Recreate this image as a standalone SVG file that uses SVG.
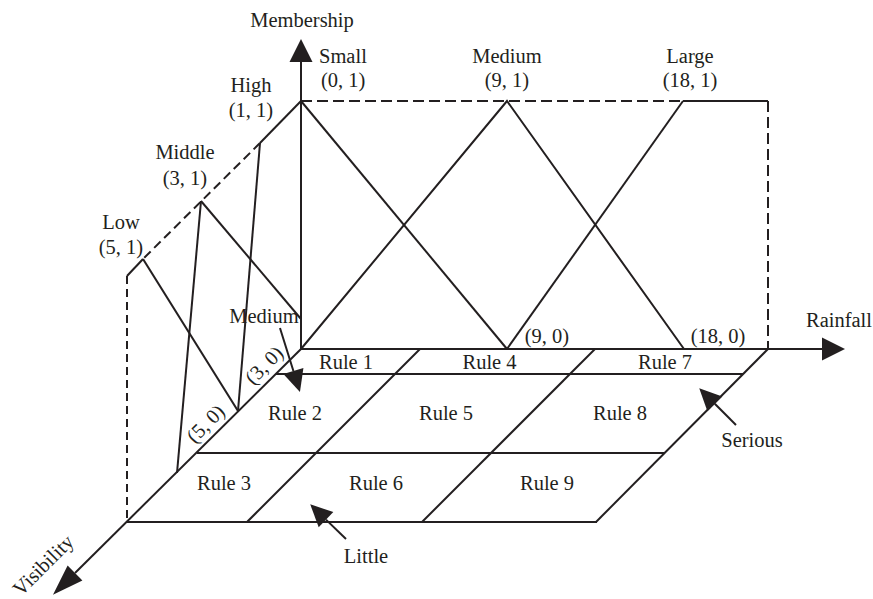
<svg xmlns="http://www.w3.org/2000/svg" width="873" height="599" viewBox="0 0 873 599">
<style>
  .ln{stroke:#231f20;stroke-width:2;fill:none;stroke-linecap:butt;stroke-linejoin:miter}
  .d1{stroke-dasharray:11 5}
  .d2{stroke-dasharray:8 5}
  .d3{stroke-dasharray:9 5}
  text{font-family:"Liberation Serif","Times New Roman",serif;font-size:20.5px;fill:#231f20}
  .m{text-anchor:middle}
</style>
<defs>
  <marker id="axh" markerUnits="userSpaceOnUse" markerWidth="23" markerHeight="23" refX="0" refY="11.5" orient="auto" overflow="visible">
    <path d="M0,0 L23,11.5 L0,23 Z" fill="#231f20"/>
  </marker>
  <marker id="vxh" markerUnits="userSpaceOnUse" markerWidth="31" markerHeight="21" refX="0" refY="10.5" orient="auto" overflow="visible">
    <path d="M0,0 L31,10.5 L0,21 Z" fill="#231f20"/>
  </marker>
  <marker id="ah" markerUnits="userSpaceOnUse" markerWidth="22" markerHeight="21" refX="0" refY="10.5" orient="auto" overflow="visible">
    <path d="M0,0 L22,10.5 L0,21 Z" fill="#231f20"/>
  </marker>
</defs>

<g id="connectors">
  <g id="axes">
    <line class="ln" x1="301" y1="349" x2="301" y2="62" marker-end="url(#axh)"/>
    <line class="ln" x1="301" y1="349" x2="822" y2="349" marker-end="url(#axh)"/>
    <line class="ln" x1="301" y1="349" x2="75" y2="573" marker-end="url(#vxh)"/>
  </g>
  <g id="rainfall-mf">
    <line class="ln d1" x1="301" y1="101" x2="683" y2="101"/>
    <line class="ln" x1="683" y1="101" x2="768" y2="101"/>
    <line class="ln d1" x1="768" y1="101" x2="768" y2="349"/>
    <line class="ln" x1="301" y1="101" x2="507" y2="349"/>
    <polyline class="ln" points="301,349 507,101 684,349"/>
    <polyline class="ln" points="507,349 683,101"/>
  </g>
  <g id="visibility-mf">
    <line class="ln" x1="301" y1="101" x2="260" y2="143"/>
    <line class="ln d3" x1="260" y1="143" x2="143" y2="259"/>
    <line class="ln" x1="143" y1="259" x2="127" y2="276"/>
    <line class="ln d2" x1="127" y1="276" x2="127" y2="522"/>
    <line class="ln" x1="260" y1="143" x2="238" y2="411"/>
    <line class="ln" x1="143" y1="259" x2="238" y2="411"/>
    <line class="ln" x1="201" y1="201" x2="177" y2="473"/>
    <line class="ln" x1="201" y1="201" x2="301" y2="319"/>
  </g>
  <g id="grid">
    <line class="ln" x1="276" y1="374" x2="743" y2="374"/>
    <line class="ln" x1="197" y1="453" x2="665" y2="453"/>
    <line class="ln" x1="127" y1="522" x2="597" y2="522"/>
    <line class="ln" x1="420" y1="349" x2="247" y2="522"/>
    <line class="ln" x1="595" y1="349" x2="422" y2="522"/>
    <line class="ln" x1="768" y1="349" x2="596" y2="522"/>
  </g>
  <g id="pointers">
    <line class="ln" x1="280" y1="328" x2="293.4" y2="371" marker-end="url(#ah)"/>
    <line class="ln" x1="736" y1="425" x2="714.8" y2="403.8" marker-end="url(#ah)"/>
    <line class="ln" x1="346" y1="539" x2="326" y2="519.6" marker-end="url(#ah)"/>
  </g>
</g>

<g id="axis-labels">
  <text class="m" x="302" y="27">Membership</text>
  <text class="m" x="839" y="327">Rainfall</text>
  <text class="m" x="48" y="570" transform="rotate(-45 48 570)">Visibility</text>
</g>

<g id="rainfall-labels">
  <g id="small"><text x="319" y="63">Small</text><text x="321" y="87">(0, 1)</text></g>
  <g id="medium-top"><text class="m" x="507" y="63">Medium</text><text class="m" x="507" y="87">(9, 1)</text></g>
  <g id="large"><text class="m" x="690" y="63">Large</text><text class="m" x="690" y="87">(18, 1)</text></g>
  <text class="m" x="547" y="343">(9, 0)</text>
  <text class="m" x="718" y="343">(18, 0)</text>
</g>

<g id="visibility-labels">
  <g id="high"><text class="m" x="251" y="92">High</text><text class="m" x="251" y="117">(1, 1)</text></g>
  <g id="middle"><text class="m" x="185" y="159">Middle</text><text class="m" x="185" y="185">(3, 1)</text></g>
  <g id="low"><text class="m" x="121" y="229">Low</text><text class="m" x="121" y="254">(5, 1)</text></g>
  <text class="m" x="269" y="370" transform="rotate(-45 269 370)">(3, 0)</text>
  <text class="m" x="210.5" y="428.5" transform="rotate(-45 210.5 428.5)">(5, 0)</text>
</g>

<g id="pointer-labels">
  <text class="m" x="264" y="323">Medium</text>
  <text class="m" x="752" y="447">Serious</text>
  <text class="m" x="366" y="563">Little</text>
</g>

<g id="rules">
  <g id="rule1"><text class="m" x="346" y="369">Rule 1</text></g>
  <g id="rule4"><text class="m" x="489.5" y="369">Rule 4</text></g>
  <g id="rule7"><text class="m" x="665" y="369">Rule 7</text></g>
  <g id="rule2"><text class="m" x="295" y="420">Rule 2</text></g>
  <g id="rule5"><text class="m" x="446" y="420">Rule 5</text></g>
  <g id="rule8"><text class="m" x="620" y="420">Rule 8</text></g>
  <g id="rule3"><text class="m" x="224" y="490">Rule 3</text></g>
  <g id="rule6"><text class="m" x="376" y="490">Rule 6</text></g>
  <g id="rule9"><text class="m" x="547" y="490">Rule 9</text></g>
</g>
</svg>
